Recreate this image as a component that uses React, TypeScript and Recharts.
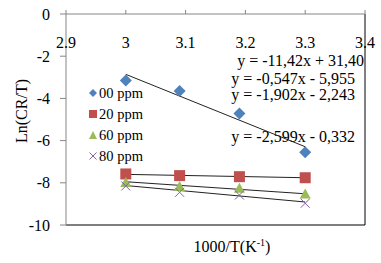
import {
  ComposedChart,
  XAxis,
  YAxis,
  Scatter,
  Line,
  Customized
} from "recharts";

const invTemp = [3.0, 3.09, 3.19, 3.3];
const ln00 = [-3.15, -3.65, -4.72, -6.55];
const ln20 = [-7.58, -7.66, -7.71, -7.76];
const ln60 = [-7.99, -8.18, -8.26, -8.53];
const ln80 = [-8.15, -8.45, -8.58, -8.97];

const xTicks = [2.9, 3.0, 3.1, 3.2, 3.3, 3.4];
const yTicks = [0, -2, -4, -6, -8, -10];

// trendline end points (x = 3.0 and x = 3.3)
const trendX = [3.0, 3.3];
const trend00 = [-2.86, -6.29];
const trend20 = [-7.6, -7.76];
const trend60 = [-7.95, -8.52];
const trend80 = [-8.13, -8.91];

const seriesNames = ["00 ppm", "20 ppm", "60 ppm", "80 ppm"];
const equations = [
  "y = -11,42x + 31,40",
  "y = -0,547x - 5,955",
  "y = -1,902x - 2,243",
  "y = -2,599x - 0,332"
];

const COLORS = ["#4F81BD", "#C0504D", "#9BBB59", "#8064A2"];
const FONT = "Liberation Serif";

const toPoints = (ys: number[]) => invTemp.map((x, i) => ({ x, y: ys[i] }));
const toTrend = (ys: number[]) => trendX.map((x, i) => ({ x, y: ys[i] }));

const Diamond = ({ cx, cy }: any) => (
  <path d={`M${cx},${cy - 6}L${cx + 6},${cy}L${cx},${cy + 6}L${cx - 6},${cy}Z`} fill={COLORS[0]} />
);
const Square = ({ cx, cy }: any) => (
  <rect x={cx - 5.5} y={cy - 5.5} width={11} height={11} fill={COLORS[1]} />
);
const Triangle = ({ cx, cy }: any) => (
  <path d={`M${cx},${cy - 5.5}L${cx + 5.5},${cy + 4.5}L${cx - 5.5},${cy + 4.5}Z`} fill={COLORS[2]} />
);
const Cross = ({ cx, cy }: any) => (
  <path
    d={`M${cx - 4.5},${cy - 4.5}L${cx + 4.5},${cy + 4.5}M${cx + 4.5},${cy - 4.5}L${cx - 4.5},${cy + 4.5}`}
    stroke={COLORS[3]}
    strokeWidth={1}
    fill="none"
  />
);

const legendIcon = (i: number, x: number, y: number) => {
  if (i === 0) return <path d={`M${x},${y - 4}L${x + 4},${y}L${x},${y + 4}L${x - 4},${y}Z`} fill={COLORS[0]} />;
  if (i === 1) return <rect x={x - 4} y={y - 4} width={8} height={8} fill={COLORS[1]} />;
  if (i === 2) return <path d={`M${x},${y - 4}L${x + 4},${y + 4}L${x - 4},${y + 4}Z`} fill={COLORS[2]} />;
  return <path d={`M${x - 3.5},${y - 3.5}L${x + 3.5},${y + 3.5}M${x + 3.5},${y - 3.5}L${x - 3.5},${y + 3.5}`} stroke={COLORS[3]} fill="none" />;
};

const TopTick = ({ x, payload }: any) => (
  <text x={x} y={48} textAnchor="middle" fontFamily={FONT} fontSize={16} fill="#000">
    {payload.value}
  </text>
);

const Annotations = () => (
  <g fontFamily={FONT} fill="#000">
    {seriesNames.map((name, i) => (
      <g key={name}>
        {legendIcon(i, 93, 93 + i * 21)}
        <text x={99} y={98 + i * 21} fontSize={14.5}>{name}</text>
      </g>
    ))}
    <text x={364} y={66} textAnchor="end" fontSize={16}>{equations[0]}</text>
    <text x={355} y={84} textAnchor="end" fontSize={16}>{equations[1]}</text>
    <text x={355} y={100} textAnchor="end" fontSize={16}>{equations[2]}</text>
    <text x={355} y={142} textAnchor="end" fontSize={16}>{equations[3]}</text>
    <text x={232} y={252} textAnchor="middle" fontSize={16}>
      1000/T(K
      <tspan fontSize={10} dy={-6}>-1</tspan>
      <tspan dy={6}>)</tspan>
    </text>
    <text x={0} y={0} transform="translate(27,111) rotate(-90)" textAnchor="middle" fontSize={16}>
      Ln(CR/T)
    </text>
    <line x1={66} y1={225} x2={365} y2={225} stroke="#000" />
    <line x1={365} y1={14} x2={365} y2={225} stroke="#000" />
  </g>
);

export default function App() {
  return (
    <div style={{ position: "absolute", left: 0, top: 0, background: "#fff" }}>
      <ComposedChart
        width={381}
        height={263}
        margin={{ top: 10, right: 16, bottom: 38, left: 16 }}
      >
        <XAxis
          type="number"
          dataKey="x"
          orientation="top"
          domain={[2.9, 3.4]}
          ticks={xTicks}
          allowDataOverflow
          height={4}
          tickSize={4}
          stroke="#868686"
          tick={<TopTick />}
        />
        <YAxis
          type="number"
          dataKey="y"
          domain={[-10, 0]}
          ticks={yTicks}
          width={50}
          tickSize={6}
          tickMargin={10}
          stroke="#868686"
          tick={{ fill: "#000", fontFamily: FONT, fontSize: 16 }}
        />
        <Scatter name={seriesNames[0]} data={toPoints(ln00)} shape={<Diamond />} isAnimationActive={false} />
        <Scatter name={seriesNames[1]} data={toPoints(ln20)} shape={<Square />} isAnimationActive={false} />
        <Scatter name={seriesNames[2]} data={toPoints(ln60)} shape={<Triangle />} isAnimationActive={false} />
        <Scatter name={seriesNames[3]} data={toPoints(ln80)} shape={<Cross />} isAnimationActive={false} />
        <Line data={toTrend(trend00)} dataKey="y" stroke="#222" strokeWidth={1} dot={false} isAnimationActive={false} />
        <Line data={toTrend(trend20)} dataKey="y" stroke="#222" strokeWidth={1} dot={false} isAnimationActive={false} />
        <Line data={toTrend(trend60)} dataKey="y" stroke="#222" strokeWidth={1} dot={false} isAnimationActive={false} />
        <Line data={toTrend(trend80)} dataKey="y" stroke="#222" strokeWidth={1} dot={false} isAnimationActive={false} />
        <Customized component={Annotations} />
      </ComposedChart>
    </div>
  );
}
